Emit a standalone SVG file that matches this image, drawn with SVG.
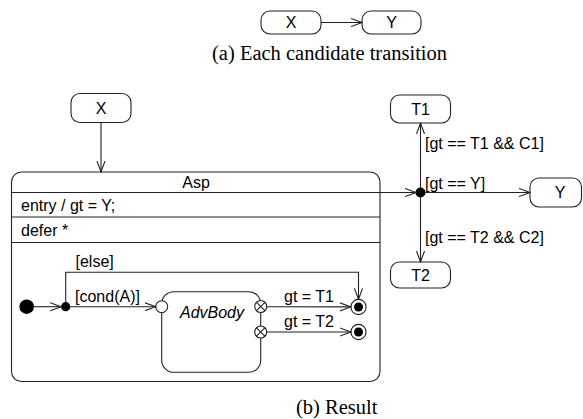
<svg xmlns="http://www.w3.org/2000/svg" width="583" height="419" viewBox="0 0 583 419">
  <defs>
    <style>
      .box { fill: #fff; stroke: #222; stroke-width: 1.1; }
      .ln { fill: none; stroke: #222; stroke-width: 1.1; }
      .dot { fill: #000; stroke: none; }
      .t { font-family: "Liberation Sans", Arial, sans-serif; font-size: 16px; fill: #000; }
      .c { text-anchor: middle; }
      .it { font-style: italic; }
      .cap { font-family: "Liberation Serif", "Times New Roman", serif; font-size: 20.5px; fill: #000; }
    </style>
    <marker id="open" viewBox="0 0 12 10" refX="11" refY="5" markerWidth="12" markerHeight="10" markerUnits="userSpaceOnUse" orient="auto">
      <path d="M0,1 L11,5 L0,9" fill="none" stroke="#222" stroke-width="1.1"/>
    </marker>
  </defs>

  <!-- (a) single candidate transition -->
  <g id="candX">
    <rect class="box" x="261" y="11" width="60" height="23" rx="9"/>
    <text class="t c" x="291" y="28">X</text>
  </g>
  <g id="candY">
    <rect class="box" x="362" y="11" width="59" height="23" rx="9"/>
    <text class="t c" x="391.5" y="28">Y</text>
  </g>
  <g id="connectors-a">
    <line class="ln" x1="321" y1="22.5" x2="362" y2="22.5" marker-end="url(#open)"/>
  </g>
  <text class="cap" x="212" y="60">(a)  Each candidate transition</text>

  <!-- (b) result -->
  <g id="X">
    <rect class="box" x="71" y="93.5" width="60" height="29" rx="9"/>
    <text class="t c" x="101" y="113.5">X</text>
  </g>

  <g id="Asp">
    <rect class="box" x="11.5" y="172" width="368.5" height="209.5" rx="10"/>
    <line class="ln" x1="11.5" y1="192.5" x2="380" y2="192.5"/>
    <line class="ln" x1="11.5" y1="217" x2="380" y2="217"/>
    <line class="ln" x1="11.5" y1="242.5" x2="380" y2="242.5"/>
    <text class="t c" x="196" y="188">Asp</text>
    <text class="t" x="21" y="210.5">entry / gt = Y;</text>
    <text class="t" x="21" y="236">defer *</text>
  </g>

  <g id="initial">
    <circle class="dot" cx="26.7" cy="306.7" r="7.3"/>
  </g>
  <g id="choice">
    <circle class="dot" cx="65.7" cy="306.7" r="4.6"/>
  </g>

  <g id="AdvBody">
    <rect class="box" x="161.7" y="291.7" width="99" height="80.6" rx="12"/>
    <text class="t it c" x="212" y="318">AdvBody</text>
  </g>
  <g id="entryPoint">
    <circle class="box" cx="161.7" cy="306.7" r="6"/>
  </g>
  <g id="exit1">
    <circle class="box" cx="260.7" cy="306.5" r="6"/>
    <path class="ln" d="M256.5,302.3 L264.9,310.7 M264.9,302.3 L256.5,310.7"/>
  </g>
  <g id="exit2">
    <circle class="box" cx="260.7" cy="332" r="6"/>
    <path class="ln" d="M256.5,327.8 L264.9,336.2 M264.9,327.8 L256.5,336.2"/>
  </g>
  <g id="final1">
    <circle class="box" cx="358.5" cy="307" r="7.6"/>
    <circle class="dot" cx="358.5" cy="307" r="4.5"/>
  </g>
  <g id="final2">
    <circle class="box" cx="358.5" cy="332" r="7.6"/>
    <circle class="dot" cx="358.5" cy="332" r="4.5"/>
  </g>

  <g id="junction">
    <circle class="dot" cx="420.5" cy="192.5" r="5"/>
  </g>
  <g id="T1">
    <rect class="box" x="390.5" y="95" width="60" height="28" rx="9"/>
    <text class="t c" x="420.5" y="114.5">T1</text>
  </g>
  <g id="Y">
    <rect class="box" x="530" y="178" width="51.5" height="29" rx="9"/>
    <text class="t c" x="560" y="198">Y</text>
  </g>
  <g id="T2">
    <rect class="box" x="390.5" y="262" width="60" height="26" rx="9"/>
    <text class="t c" x="420.5" y="280.5">T2</text>
  </g>

  <g id="connectors">
    <line class="ln" x1="101" y1="122.5" x2="101" y2="172" marker-end="url(#open)"/>
    <line class="ln" x1="380" y1="192.5" x2="416" y2="192.5" marker-end="url(#open)"/>
    <line class="ln" x1="420.5" y1="188" x2="420.5" y2="123" marker-end="url(#open)"/>
    <line class="ln" x1="425.5" y1="192.5" x2="530" y2="192.5" marker-end="url(#open)"/>
    <line class="ln" x1="420.5" y1="197" x2="420.5" y2="262" marker-end="url(#open)"/>
    <line class="ln" x1="34" y1="306.7" x2="61.2" y2="306.7" marker-end="url(#open)"/>
    <line class="ln" x1="70" y1="306.7" x2="155.7" y2="306.7" marker-end="url(#open)"/>
    <polyline class="ln" points="65.7,302 65.7,272.3 358.5,272.3 358.5,299.4" marker-end="url(#open)"/>
    <line class="ln" x1="266.7" y1="306.7" x2="350.9" y2="306.9" marker-end="url(#open)"/>
    <line class="ln" x1="266.7" y1="332" x2="350.9" y2="332" marker-end="url(#open)"/>
  </g>

  <g id="labels">
    <text class="t" x="425" y="149">[gt == T1 &amp;&amp; C1]</text>
    <text class="t" x="425" y="188.5">[gt == Y]</text>
    <text class="t" x="425" y="242.5">[gt == T2 &amp;&amp; C2]</text>
    <text class="t" x="75.5" y="266.5">[else]</text>
    <text class="t" x="75" y="301.5">[cond(A)]</text>
    <text class="t c" x="309" y="301.5">gt = T1</text>
    <text class="t c" x="309" y="326.5">gt = T2</text>
  </g>

  <text class="cap" x="296" y="414">(b)  Result</text>
</svg>
